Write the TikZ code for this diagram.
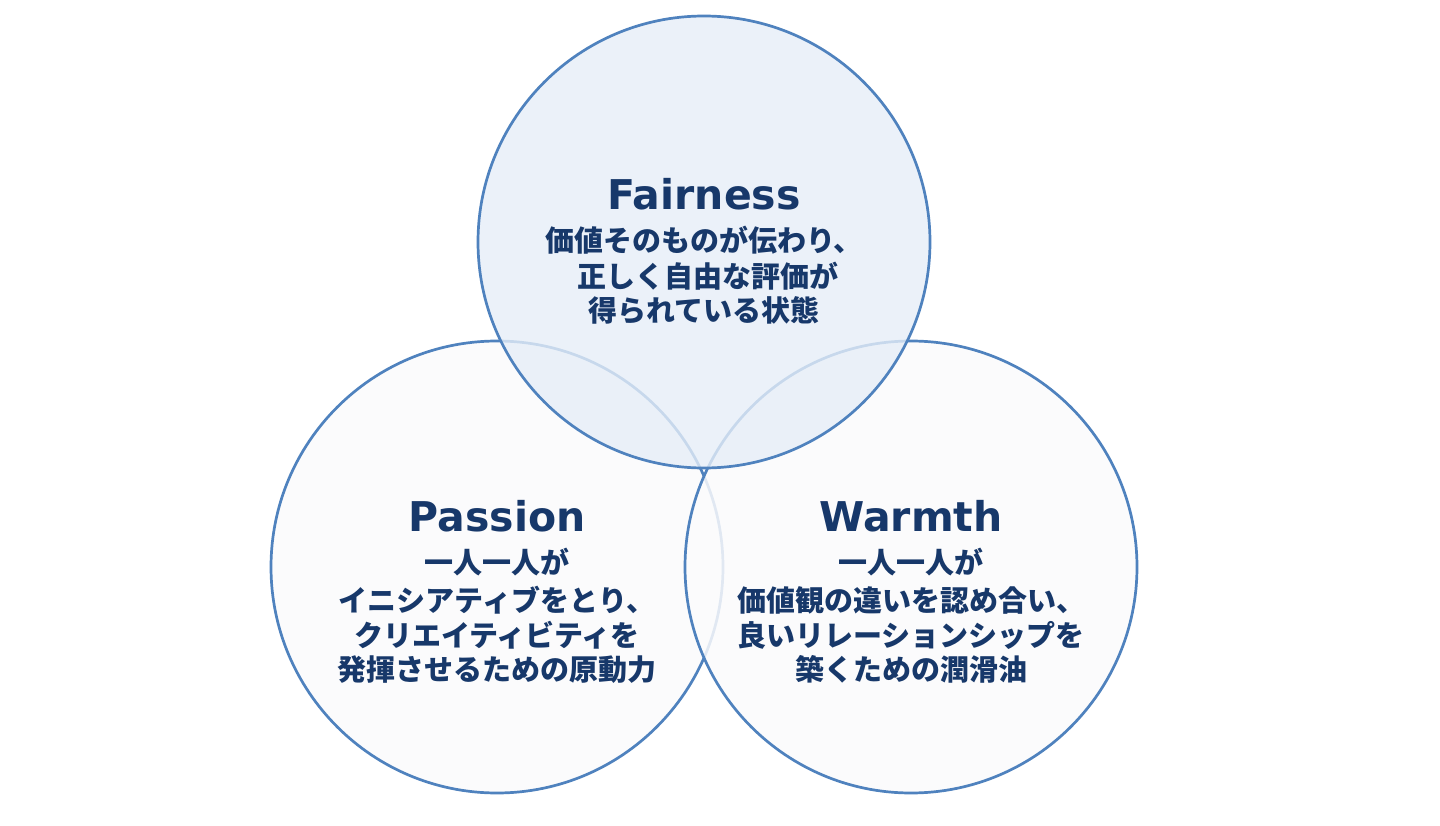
\documentclass[tikz,border=0pt]{standalone}
\usepackage{fontspec}
\setmainfont{DejaVu Sans}
\newfontfamily\jp{Noto Sans CJK JP}
\definecolor{ring}{HTML}{4F82BE}
\definecolor{topfill}{HTML}{E6EEF8}
\definecolor{lowfill}{HTML}{FBFBFC}
\definecolor{navy}{HTML}{17386A}
\tikzset{
  venn/.style={circle, draw=ring, line width=2.7pt, minimum size=452pt, inner sep=0pt},
  title/.style={font=\bfseries\fontsize{41}{41}\selectfont, text=navy, anchor=base, inner sep=0pt},
  jpline/.style={font=\jp\bfseries\fontsize{29}{29}\selectfont, text=navy, anchor=base, inner sep=0pt}
}
\begin{document}
\begin{tikzpicture}[x=1pt,y=-1pt]
\useasboundingbox[fill=white] (0,0) rectangle (1440,826);
\node[venn, fill=lowfill] (pas) at (497,567) {};
\node[venn, fill=lowfill, fill opacity=0.85] (war) at (911,567) {};
\node[venn, fill=topfill, fill opacity=0.8] (fai) at (704,242) {};
% Fairness
\node[title] (ft) at (704,210) {Fairness};
\node[jpline] (f1) at (704,252) {価値そのものが伝わり、};
\node[jpline] (f2) at (708,288) {正しく自由な評価が};
\node[jpline] (f3) at (704,321) {得られている状態};
% Passion
\node[title] (pt) at (497,531) {Passion};
\node[jpline] (p1) at (497,573) {一人一人が};
\node[jpline] (p2) at (497,611) {イニシアティブをとり、};
\node[jpline] (p3) at (497,646) {クリエイティビティを};
\node[jpline] (p4) at (497,680) {発揮させるための原動力};
% Warmth
\node[title] (wt) at (911,531) {Warmth};
\node[jpline] (w1) at (911,573) {一人一人が};
\node[jpline] (w2) at (911,611) {価値観の違いを認め合い、};
\node[jpline] (w3) at (911,646) {良いリレーションシップを};
\node[jpline] (w4) at (911,680) {築くための潤滑油};
\end{tikzpicture}
\end{document}
